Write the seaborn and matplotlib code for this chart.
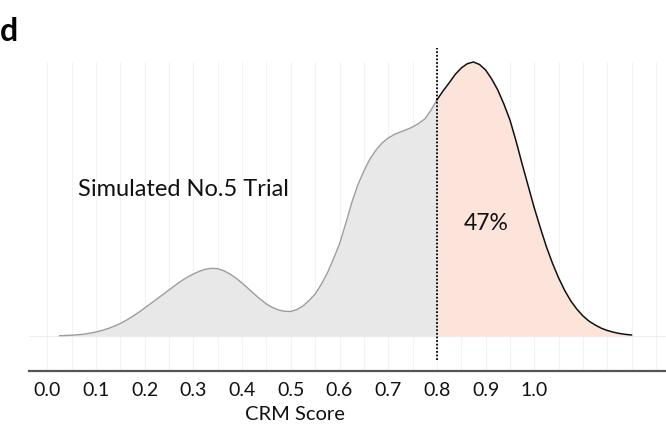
import numpy as np
import pandas as pd
import matplotlib
matplotlib.use("Agg")
import matplotlib.pyplot as plt
import seaborn as sns

# ---- data ----
crm_score = [0.025, 0.0375, 0.05, 0.0625, 0.075, 0.0875, 0.10, 0.1125, 0.125, 0.1375,
             0.15, 0.1625, 0.175, 0.1875, 0.20, 0.2125, 0.225, 0.2375, 0.25, 0.2625,
             0.275, 0.2875, 0.30, 0.3125, 0.325, 0.3375, 0.35, 0.3625, 0.375, 0.3875,
             0.40, 0.4125, 0.425, 0.4375, 0.45, 0.4625, 0.475, 0.4875, 0.50, 0.5125,
             0.525, 0.5375, 0.55, 0.5625, 0.575, 0.5875, 0.60, 0.6125, 0.625, 0.6375,
             0.65, 0.6625, 0.675, 0.6875, 0.70, 0.7125, 0.725, 0.7375, 0.75, 0.7625,
             0.775, 0.7875, 0.80, 0.8125, 0.825, 0.8375, 0.85, 0.8625, 0.875, 0.8875,
             0.90, 0.9125, 0.925, 0.9375, 0.95, 0.9625, 0.975, 0.9875, 1.00, 1.0125,
             1.025, 1.0375, 1.05, 1.0625, 1.075, 1.0875, 1.10, 1.1125, 1.125, 1.1375,
             1.15, 1.1625, 1.175, 1.1875, 1.20]
density = [0.3, 0.5, 0.8, 1.2, 1.8, 2.8, 4.0, 5.6, 7.5, 9.8,
           12.5, 15.8, 19.5, 23.6, 28, 32.5, 37, 41.5, 46, 50.6,
           55, 58.8, 62, 64.8, 66.8, 67.7, 67.3, 65.3, 62, 57.8,
           53, 47.5, 42, 36.7, 32, 28.5, 26, 24.7, 24.5, 26.5,
           30, 35.5, 42, 51.5, 63, 77, 92, 112, 133, 151,
           165, 177, 186, 193, 198, 201.5, 204, 206.3, 209, 212.5,
           217, 225.5, 236, 245, 253, 261.5, 268, 272.3, 274, 271.5,
           266, 257, 246, 232, 216, 195, 172, 150, 128, 108,
           89, 72.5, 58, 45.5, 35, 26.8, 20, 14.8, 11, 7.8,
           5.5, 3.8, 2.5, 1.6, 1.0]
threshold = 0.8
tick_values = [0.0, 0.1, 0.2, 0.3, 0.4, 0.5, 0.6, 0.7, 0.8, 0.9, 1.0]
tick_labels = ["0.0", "0.1", "0.2", "0.3", "0.4", "0.5", "0.6", "0.7", "0.8", "0.9", "1.0"]
trial_label = "Simulated No.5 Trial"
pct_label = "47%"
xlabel = "CRM Score"
panel_label = "d"

df = pd.DataFrame({"score": crm_score, "density": density})
low = df[df["score"] <= threshold]
high = df[df["score"] >= threshold]

sns.set_style("white")
plt.rcParams["font.family"] = ["Lato", "DejaVu Sans"]

W, H = 666, 433
fig = plt.figure(figsize=(W / 100, H / 100), dpi=100)
ax_left, ax_right = 29, 666
ax_bottom, ax_top = 371, 62
ax = fig.add_axes([ax_left / W, 1 - ax_bottom / H, (ax_right - ax_left) / W, (ax_bottom - ax_top) / H])

# x mapping: px = 47.3 + 487 * v
x0, xs = 47.3, 487.0
ax.set_xlim((ax_left - x0) / xs, (ax_right - x0) / xs)
base_px = 336
ax.set_ylim(-(ax_bottom - base_px), base_px - ax_top)

# faint vertical grid
for g in np.arange(0, 1.26, 0.05):
    ax.axvline(g, color="#f3f3f3", lw=0.8, zorder=0)
ax.axhline(0, color="#eeeeee", lw=0.8, zorder=0)

ax.fill_between(low["score"], 0, low["density"], color="#e8e8e8", lw=0, zorder=1)
ax.fill_between(high["score"], 0, high["density"], color="#fde4da", lw=0, zorder=1)
sns.lineplot(data=low, x="score", y="density", ax=ax, color="#9c9c9c", lw=1.0,
             zorder=3, clip_on=False)
sns.lineplot(data=high, x="score", y="density", ax=ax, color="#111111", lw=1.1,
             zorder=3, clip_on=False)

ax.plot([threshold, threshold], [-(360 - base_px), base_px - 48], color="black",
        ls=(0, (1, 1)), lw=1.3, zorder=4, clip_on=False)

ax.text(0.279, 147, trial_label, ha="center", va="center", fontsize=17, color="#111111")
ax.text(0.902, 112, pct_label, ha="center", va="center", fontsize=16.5, color="#111111")

for s in ["top", "right", "left"]:
    ax.spines[s].set_visible(False)
ax.spines["bottom"].set_color("#555555")
ax.spines["bottom"].set_linewidth(1.6)
ax.set_xticks(tick_values)
ax.set_xticklabels(tick_labels, fontsize=14, color="#111111")
ax.tick_params(axis="x", length=3, width=1, color="#555555", pad=5)
ax.set_yticks([])
ax.set_xlabel("")
ax.set_ylabel("")

fig.text(295 / W, 1 - 414 / H, xlabel, ha="center", va="center", fontsize=14.5, color="#111111")
fig.text(0 / W, 1 - 41 / H, panel_label, ha="left", va="baseline", fontsize=23,
         fontweight="bold", color="black")

fig.savefig("out.png", dpi=100, facecolor="white")
